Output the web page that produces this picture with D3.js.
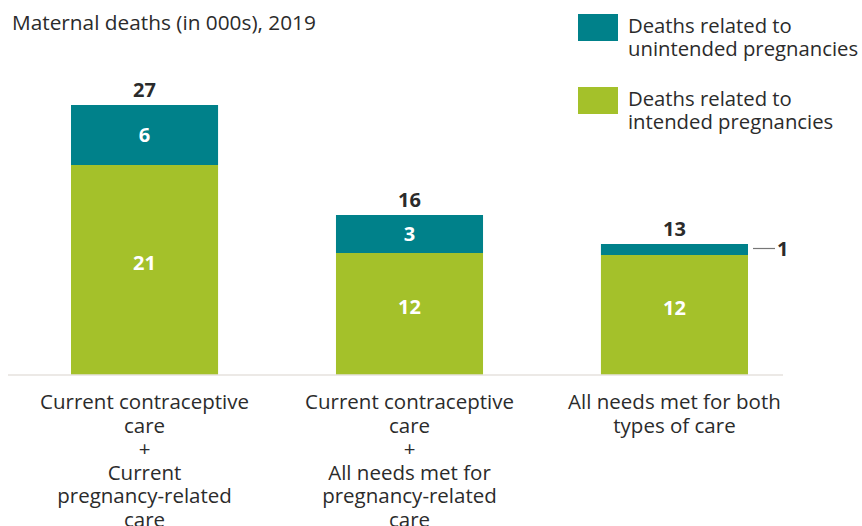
<!DOCTYPE html>
<html>
<head>
<meta charset="utf-8">
<script src="https://cdn.jsdelivr.net/npm/d3@7"></script>
<style>
  body { margin: 0; background: #fff; }
  text { font-family: "Open Sans", sans-serif; }
</style>
</head>
<body>
<svg id="chart" width="862" height="526"></svg>
<script>
// data (in 000s)
const categories = ['c1', 'c2', 'c3']
const categoryLabels = [
    ['Current contraceptive', 'care', '+', 'Current', 'pregnancy-related', 'care'],
    ['Current contraceptive', 'care', '+', 'All needs met for', 'pregnancy-related', 'care'],
    ['All needs met for both', 'types of care']
]
const intended = [21, 12.2, 12.0]
const unintended = [6, 3.8, 1.1]
// numbers printed on the chart
const intendedLabels = ['21', '12', '12']
const unintendedLabels = ['6', '3', '1']
const totalLabels = ['27', '16', '13']
const legendLines = [['Deaths related to', 'unintended pregnancies'], ['Deaths related to', 'intended pregnancies']]

const teal = '#00818a', green = '#a4c12a', ink = '#2b2b2b'

const svg = d3.select('#chart')

/* scales */
const x = d3.scaleBand()
    .domain(categories)
    .range([12, 807])
    .paddingInner(0.445)
    .paddingOuter(0.2227)

const y = d3.scaleLinear()
    .domain([0, 27])
    .range([375, 105])

/* title */
svg.append('text')
    .attr('x', 12)
    .attr('y', 30)
    .attr('font-size', 20.8)
    .attr('fill', ink)
    .text('Maternal deaths (in 000s), 2019')

/* legend */
const legend = svg.append('g')
legendLines.forEach((lines, i) => {
    const gy = 14 + i * 73
    legend.append('rect')
        .attr('x', 578).attr('y', gy)
        .attr('width', 40).attr('height', 27)
        .attr('fill', i == 0 ? teal : green)
    const t = legend.append('text')
        .attr('font-size', 20.3)
        .attr('fill', ink)
    lines.forEach((l, j) => {
        t.append('tspan')
            .attr('x', 628)
            .attr('y', gy + 19 + j * 22.5)
            .text(l)
    })
})

/* stacked data */
const rows = categories.map((c, i) => ({cat: c, i: i, intended: intended[i], unintended: unintended[i]}))
const stack = d3.stack().keys(['intended', 'unintended'])(rows)
const segLabels = {intended: intendedLabels, unintended: unintendedLabels}

const g = svg.append('g')

g.selectAll('.series')
    .data(stack)
    .join('g')
    .attr('fill', d => d.key == 'intended' ? green : teal)
    .selectAll('rect')
    .data(d => d)
    .join('rect')
    .attr('x', d => x(d.data.cat))
    .attr('width', x.bandwidth())
    .attr('y', d => y(d[1]))
    .attr('height', d => y(d[0]) - y(d[1]))

/* baseline */
svg.append('line')
    .attr('x1', 8).attr('x2', 783)
    .attr('y1', y(0)).attr('y2', y(0))
    .attr('stroke', '#e6e2de')
    .attr('stroke-width', 1.5)

/* segment labels (the thin one gets a callout) */
stack.forEach(s => {
    const dy = s.key == 'intended' ? 0 : 7
    g.selectAll(null)
        .data(s.filter(d => d[1] - d[0] >= 2))
        .join('text')
        .attr('x', d => x(d.data.cat) + x.bandwidth() / 2)
        .attr('y', d => (y(d[0]) + y(d[1])) / 2 + dy)
        .attr('text-anchor', 'middle')
        .attr('font-size', 20)
        .attr('font-weight', 'bold')
        .attr('fill', '#fff')
        .text(d => segLabels[s.key][d.data.i])
})

/* the "1" callout */
const small = stack[1][2]
const cy = (y(small[0]) + y(small[1])) / 2
svg.append('line')
    .attr('x1', x(small.data.cat) + x.bandwidth() + 5)
    .attr('x2', x(small.data.cat) + x.bandwidth() + 27)
    .attr('y1', cy - 1).attr('y2', cy - 1)
    .attr('stroke', '#777')
    .attr('stroke-width', 1.2)
svg.append('text')
    .attr('x', x(small.data.cat) + x.bandwidth() + 29)
    .attr('y', cy + 6)
    .attr('font-size', 20)
    .attr('font-weight', 'bold')
    .attr('fill', ink)
    .text(unintendedLabels[2])

/* totals */
g.selectAll('.total')
    .data(rows)
    .join('text')
    .attr('x', d => x(d.cat) + x.bandwidth() / 2)
    .attr('y', d => y(d.intended + d.unintended) - 8)
    .attr('text-anchor', 'middle')
    .attr('font-size', 20)
    .attr('font-weight', 'bold')
    .attr('fill', ink)
    .text(d => totalLabels[d.i])

/* category labels */
categoryLabels.forEach((lines, i) => {
    const t = svg.append('text')
        .attr('text-anchor', 'middle')
        .attr('font-size', 20.5)
        .attr('fill', ink)
    lines.forEach((l, j) => {
        t.append('tspan')
            .attr('x', x(categories[i]) + x.bandwidth() / 2)
            .attr('y', 409 + j * 23.5)
            .text(l)
    })
})
</script>
</body>
</html>
